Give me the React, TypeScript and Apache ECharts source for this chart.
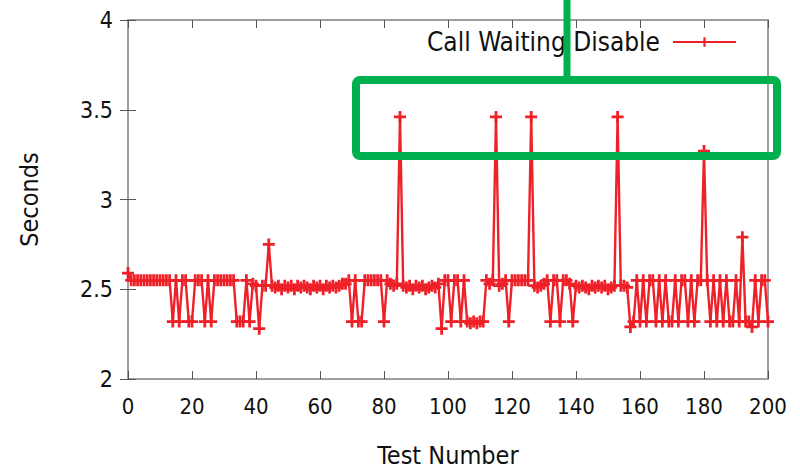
import React, { useEffect, useRef } from "react";
import * as echarts from "echarts";

const seriesName = "Call Waiting Disable";
const xTicks = [0, 20, 40, 60, 80, 100, 120, 140, 160, 180, 200];
const yTicks = [2, 2.5, 3, 3.5, 4];
// Seconds per test number 0..200
const seconds = [
  2.59, 2.55, 2.55, 2.55, 2.55, 2.55, 2.55, 2.55, 2.55, 2.55,
  2.55, 2.55, 2.55, 2.55, 2.32, 2.55, 2.32, 2.55, 2.55, 2.32,
  2.32, 2.55, 2.55, 2.55, 2.32, 2.55, 2.32, 2.55, 2.55, 2.55,
  2.55, 2.55, 2.55, 2.55, 2.32, 2.32, 2.32, 2.55, 2.32, 2.53,
  2.52, 2.28, 2.52, 2.52, 2.75, 2.52, 2.51, 2.52, 2.50, 2.52,
  2.51, 2.52, 2.50, 2.52, 2.51, 2.52, 2.51, 2.50, 2.52, 2.51,
  2.52, 2.50, 2.52, 2.51, 2.52, 2.51, 2.52, 2.53, 2.53, 2.55,
  2.32, 2.55, 2.32, 2.32, 2.55, 2.55, 2.55, 2.55, 2.55, 2.55,
  2.32, 2.55, 2.53, 2.52, 2.53, 3.46, 2.52, 2.51, 2.52, 2.50,
  2.52, 2.51, 2.52, 2.50, 2.51, 2.52, 2.51, 2.53, 2.28, 2.55,
  2.55, 2.32, 2.55, 2.55, 2.32, 2.55, 2.32, 2.31, 2.32, 2.31,
  2.32, 2.32, 2.55, 2.53, 2.55, 3.46, 2.52, 2.53, 2.55, 2.32,
  2.55, 2.55, 2.55, 2.55, 2.55, 2.55, 3.46, 2.52, 2.51, 2.52,
  2.53, 2.55, 2.32, 2.55, 2.55, 2.32, 2.55, 2.55, 2.53, 2.32,
  2.52, 2.51, 2.52, 2.51, 2.50, 2.52, 2.51, 2.52, 2.51, 2.52,
  2.50, 2.51, 2.52, 3.46, 2.52, 2.52, 2.51, 2.29, 2.32, 2.55,
  2.32, 2.55, 2.32, 2.55, 2.55, 2.32, 2.55, 2.32, 2.55, 2.32,
  2.32, 2.55, 2.32, 2.55, 2.55, 2.32, 2.55, 2.32, 2.55, 2.55,
  3.27, 2.55, 2.32, 2.55, 2.32, 2.55, 2.32, 2.55, 2.32, 2.32,
  2.55, 2.32, 2.79, 2.32, 2.32, 2.29, 2.55, 2.32, 2.55, 2.55,
  2.32,
];

const RED = "#ee2028";
const GREEN = "#00b04f";
const BORDER = "#808080";
const NARROW = "'Liberation Sans Narrow', 'DejaVu Sans Condensed', sans-serif";
const PLUS = "path://M4,0h2.4v4h4v2.4h-4v4h-2.4v-4h-4v-2.4h4z";

export default function App() {
  const ref = useRef<HTMLDivElement>(null);
  useEffect(() => {
    if (!ref.current) return;
    const chart = echarts.init(ref.current, undefined, { renderer: "svg" });
    const xMin = xTicks[0];
    const xMax = xTicks[xTicks.length - 1];
    const yMin = yTicks[0];
    const yMax = yTicks[yTicks.length - 1];
    const tick = { show: true, inside: true, length: 8, lineStyle: { color: "#555", width: 1 } };
    chart.setOption({
      animation: false,
      backgroundColor: "#fff",
      grid: {
        left: 128, right: 32, top: 20, bottom: 89,
        show: true, borderColor: BORDER, borderWidth: 1.5, backgroundColor: "transparent",
      },
      legend: {
        show: true,
        right: 58,
        top: 24,
        align: "right",
        itemWidth: 63,
        itemHeight: 12,
        itemGap: 0,
        textStyle: { fontFamily: "'DejaVu Sans Condensed', sans-serif", fontSize: 26, color: "#111", padding: [0, 8, 0, 0] },
        data: [{ name: seriesName }],
      },
      xAxis: [
        {
          type: "value", min: xMin, max: xMax, interval: 20,
          axisLine: { show: false },
          axisTick: tick,
          splitLine: { show: false },
          axisLabel: { margin: 16, fontFamily: NARROW, fontSize: 22, color: "#111" },
          name: "Test Number", nameLocation: "middle", nameGap: 64,
          nameTextStyle: { fontFamily: NARROW, fontSize: 25, color: "#111" },
        },
        {
          type: "value", position: "top", min: xMin, max: xMax, interval: 20,
          axisLine: { show: false }, axisTick: tick, axisLabel: { show: false }, splitLine: { show: false },
        },
      ],
      yAxis: [
        {
          type: "value", min: yMin, max: yMax, interval: 0.5,
          axisLine: { show: false },
          axisTick: tick,
          splitLine: { show: false },
          axisLabel: { margin: 15, fontFamily: NARROW, fontSize: 23, color: "#111" },
          name: "Seconds", nameLocation: "middle", nameGap: 86, nameRotate: 90,
          nameTextStyle: { fontFamily: NARROW, fontSize: 25, color: "#111" },
        },
        {
          type: "value", position: "right", min: yMin, max: yMax, interval: 0.5,
          axisLine: { show: false }, axisTick: tick, axisLabel: { show: false }, splitLine: { show: false },
        },
      ],
      series: [
        {
          name: seriesName,
          type: "line",
          data: seconds.map((v, i) => [i, v]),
          symbol: PLUS,
          symbolSize: 12,
          showAllSymbol: true,
          lineStyle: { color: RED, width: 2.4 },
          itemStyle: { color: RED },
        },
      ],
      graphic: [
        {
          type: "rect", z: 100,
          shape: { x: 356, y: 80, width: 421, height: 76, r: 4 },
          style: { fill: "none", stroke: GREEN, lineWidth: 8 },
        },
        {
          type: "line", z: 100,
          shape: { x1: 567, y1: -5, x2: 567, y2: 78 },
          style: { stroke: GREEN, lineWidth: 7 },
        },
      ],
    });
    return () => chart.dispose();
  }, []);
  return (
    <div
      ref={ref}
      style={{ position: "fixed", left: 0, top: 0, width: 800, height: 473 }}
    />
  );
}
